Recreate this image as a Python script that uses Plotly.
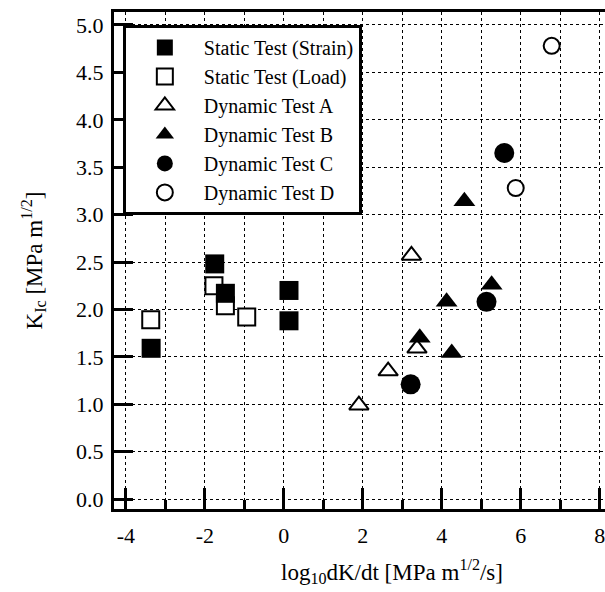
import plotly.graph_objects as go

# ---- data ----
strain_x = [-3.36, -1.75, -1.48, 0.13, 0.13]
strain_y = [1.59, 2.48, 2.17, 2.20, 1.88]

load_x = [-3.37, -1.77, -1.48, -0.94]
load_y = [1.89, 2.25, 2.04, 1.92]

dyn_a_x = [1.90, 2.64, 3.37, 3.23]
dyn_a_y = [0.99, 1.35, 1.59, 2.57]

dyn_b_x = [3.44, 4.25, 4.12, 5.26, 4.57]
dyn_b_y = [1.70, 1.54, 2.08, 2.26, 3.14]

dyn_c_x = [3.21, 5.13, 5.58]
dyn_c_y = [1.21, 2.08, 3.65]

dyn_d_x = [5.87, 6.78]
dyn_d_y = [3.28, 4.78]

x_tick_vals = [-4, -2, 0, 2, 4, 6, 8]
x_tick_text = ["-4", "-2", "0", "2", "4", "6", "8"]
x_minor_vals = [-3, -1, 1, 3, 5, 7]

FONT = "Liberation Serif"

fig = go.Figure()

def add(name, xs, ys, symbol, filled, size, rank):
    fig.add_trace(go.Scatter(
        x=xs, y=ys, mode="markers", name=name, legendrank=rank,
        marker=dict(symbol=symbol, size=size,
                    color="black" if filled else "white",
                    line=dict(color="black", width=0 if filled else 2)),
    ))

add("Static Test (Load)", load_x, load_y, "square", False, 17, 2)
add("Static Test (Strain)", strain_x, strain_y, "square", True, 19, 1)
add("Dynamic Test A", dyn_a_x, dyn_a_y, "triangle-up", False, 17, 3)
add("Dynamic Test B", dyn_b_x, dyn_b_y, "triangle-up", True, 19, 4)
add("Dynamic Test C", dyn_c_x, dyn_c_y, "circle", True, 20, 5)
add("Dynamic Test D", dyn_d_x, dyn_d_y, "circle", False, 16, 6)

fig.update_layout(
    width=605, height=592,
    margin=dict(l=114, r=0, t=12, b=83),
    paper_bgcolor="white", plot_bgcolor="white",
    font=dict(family=FONT, size=21, color="black"),
    showlegend=True,
    legend=dict(
        x=0.018, y=0.974, xanchor="left", yanchor="top",
        bgcolor="white", bordercolor="black", borderwidth=3,
        font=dict(family=FONT, size=20, color="black"),
        itemwidth=68, traceorder="normal",
    ),
    xaxis=dict(
        range=[-4.30, 8.13],
        tickmode="array", tickvals=x_tick_vals, ticktext=x_tick_text,
        ticks="inside", ticklen=21, tickwidth=3, tickcolor="black",
        showline=True, linecolor="black", linewidth=3, mirror=True,
        showgrid=True, gridcolor="black", gridwidth=1, griddash="dot",
        zeroline=False,
        tickfont=dict(family=FONT, size=22),
        ticklabelstandoff=5,
        ticklabeloverflow="allow",
        minor=dict(tickmode="array", tickvals=x_minor_vals,
                   ticks="inside", ticklen=9, tickwidth=3, tickcolor="black",
                   showgrid=True, gridcolor="black", gridwidth=1, griddash="dot"),
    ),
    yaxis=dict(
        range=[-0.105, 5.137],
        tickmode="linear", tick0=0, dtick=0.5, tickformat=".1f",
        ticks="inside", ticklen=19, tickwidth=3, tickcolor="black",
        showline=True, linecolor="black", linewidth=3, mirror=False,
        showgrid=True, gridcolor="black", gridwidth=1, griddash="dot",
        zeroline=False,
        tickfont=dict(family=FONT, size=22),
        ticklabelstandoff=3,
        title=dict(text="K<sub>Ic</sub> [MPa m<sup>1/2</sup>]",
                   font=dict(family=FONT, size=23), standoff=28),
    ),
    annotations=[dict(
        text="log<sub>10</sub>dK/dt [MPa m<sup>1/2</sup>/s]",
        xref="paper", yref="paper", x=0.566, y=-0.125,
        xanchor="center", yanchor="middle", showarrow=False,
        font=dict(family=FONT, size=23, color="black"),
    )],
)

fig.write_html(
    "out.html",
    config={"displayModeBar": False},
    post_script="document.body.style.margin='0';document.body.style.overflow='hidden';",
)
